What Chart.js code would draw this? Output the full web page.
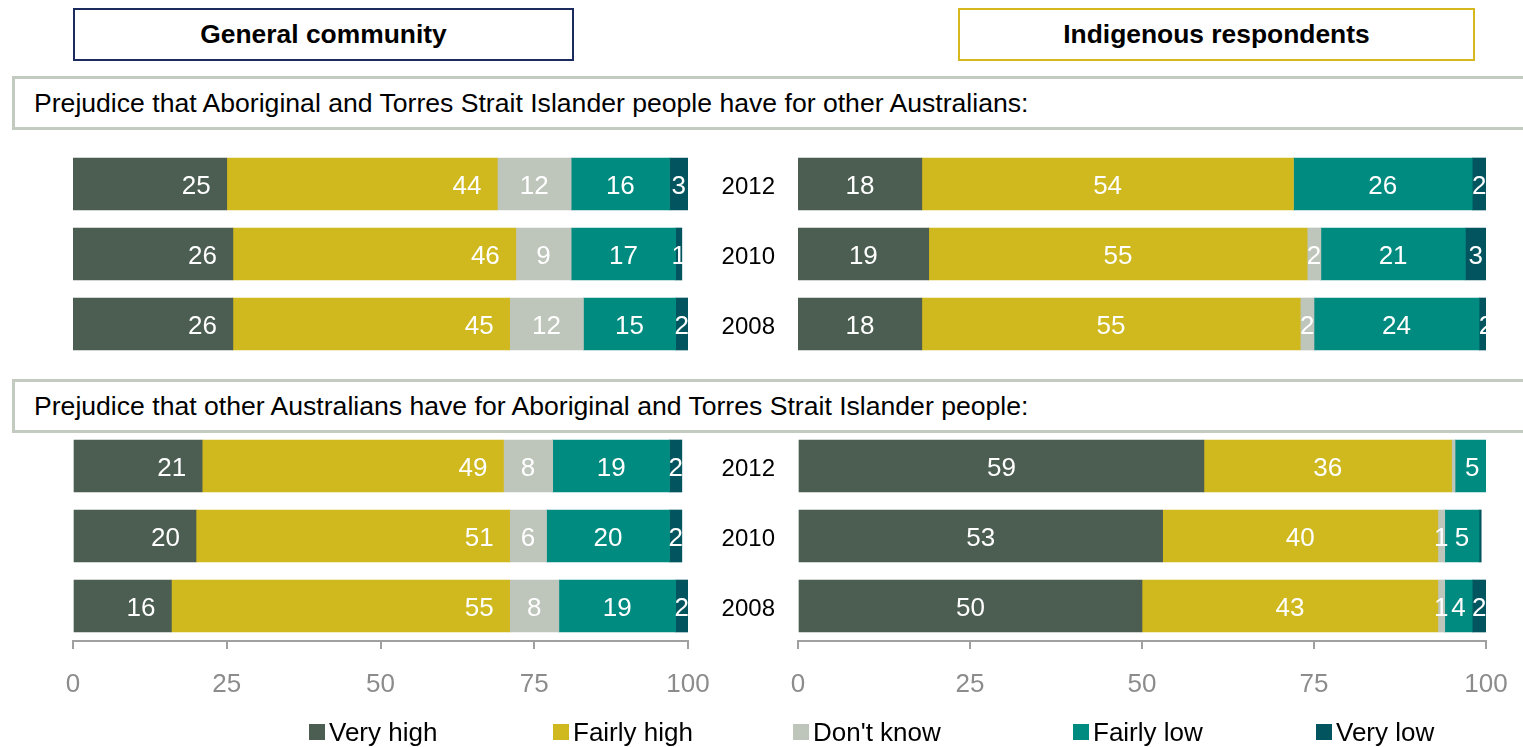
<!DOCTYPE html>
<html>
<head>
<meta charset="utf-8">
<script src="https://cdn.jsdelivr.net/npm/chart.js@4.4.1/dist/chart.umd.min.js"></script>
<style>
  html, body { margin: 0; padding: 0; background: #fff; }
  body { width: 1523px; height: 747px; position: relative; overflow: hidden;
         font-family: "Liberation Sans", Arial, sans-serif; color: #000; }
  .abs { position: absolute; }
  canvas.abs { display: block; }
  .header { box-sizing: border-box; height: 53px; display: flex; align-items: center;
            justify-content: center; font-weight: bold; font-size: 26.4px; }
  .section { box-sizing: border-box; left: 12px; width: 1540px; border: 3px solid #c3cbc0;
             display: flex; align-items: center; padding-left: 19px; font-size: 26.6px; }
  .legend-item { position: absolute; top: 717px; display: flex; align-items: center; font-size: 26px; line-height: 30px; }
  .legend-item span.sw { display: inline-block; width: 16px; height: 16px; margin-right: 4px; }
</style>
</head>
<body>
<div class="abs header" style="left:73px; top:8px; width:501px; border:2px solid #1c2b5e;">General community</div>
<div class="abs header" style="left:958px; top:8px; width:517px; border:2px solid #d4b81e;">Indigenous respondents</div>

<div class="abs section" style="top:76px; height:54px;">Prejudice that Aboriginal and Torres Strait Islander people have for other Australians:</div>
<div class="abs section" style="top:379px; height:54px;">Prejudice that other Australians have for Aboriginal and Torres Strait Islander people:</div>

<canvas id="tl" class="abs" width="615" height="210" style="left:73px; top:149px; width:615px; height:210px;"></canvas>
<canvas id="tr" class="abs" width="810" height="210" style="left:700px; top:149px; width:810px; height:210px;"></canvas>
<canvas id="bl" class="abs" width="675" height="290" style="left:43px; top:431px; width:675px; height:290px;"></canvas>
<canvas id="br" class="abs" width="810" height="290" style="left:700px; top:431px; width:810px; height:290px;"></canvas>

<div id="legend"></div>

<script>
// Survey years, top to bottom
const years = ['2012', '2010', '2008'];
// Response categories and their colours
const responses = ['Very high', 'Fairly high', "Don't know", 'Fairly low', 'Very low'];
const responseColors = ['#4b5e51', '#d0b91e', '#bec5bb', '#008b80', '#02555f'];
// Axis ticks
const xTicks = [0, 25, 50, 75, 100];

// Per year: Very high, Fairly high, Don't know, Fairly low, Very low (%)
const generalOnIndigenousPrejudice = [
  [25, 44, 12, 16, 3],
  [26, 46, 9, 17, 1],
  [26, 45, 12, 15, 2]
];
const indigenousOnIndigenousPrejudice = [
  [18, 54, 0, 26, 2],
  [19, 55, 2, 21, 3],
  [18, 55, 2, 24, 2]
];
const generalOnOthersPrejudice = [
  [21, 49, 8, 19, 2],
  [20, 51, 6, 20, 2],
  [16, 55, 8, 19, 2]
];
const indigenousOnOthersPrejudice = [
  [59, 36, 0.5, 5, 0.4],
  [53, 40, 1, 5, 0.3],
  [50, 43, 1, 4, 2]
];

const FONT = '"Liberation Sans", Arial, sans-serif';

// Writes the value inside each segment; some series are pinned to the segment end
const segmentLabels = {
  id: 'segmentLabels',
  afterDatasetsDraw(chart, args, opts) {
    const ctx = chart.ctx;
    ctx.save();
    ctx.font = '26px ' + FONT;
    ctx.fillStyle = '#ffffff';
    ctx.textBaseline = 'middle';
    chart.data.datasets.forEach((ds, di) => {
      const meta = chart.getDatasetMeta(di);
      meta.data.forEach((bar, i) => {
        const v = ds.data[i];
        if (v == null || v < 1) return;
        const txt = String(v);
        const left = Math.min(bar.x, bar.base), right = Math.max(bar.x, bar.base);
        if (opts.endAnchored && opts.endAnchored.includes(di)) {
          ctx.textAlign = 'right';
          ctx.fillText(txt, right - 16, bar.y + 3);
        } else {
          ctx.textAlign = 'center';
          ctx.fillText(txt, (left + right) / 2, bar.y + 3);
        }
      });
    });
    ctx.restore();
  }
};

function buildDatasets(rows) {
  return responses.map((name, k) => ({
    label: name,
    data: rows.map(r => r[k]),
    backgroundColor: responseColors[k],
    borderWidth: 0,
    barThickness: 52
  }));
}

// Fixed axis band sizes; label overhang is handled by layout padding instead
function fixSize(prop, size) {
  return s => {
    if (s.options.display) s[prop] = size;
    s.paddingTop = 0; s.paddingBottom = 0; s.paddingLeft = 0; s.paddingRight = 0;
  };
}

function makePanel(id, rows, cfg) {
  new Chart(document.getElementById(id), {
    type: 'bar',
    data: { labels: years, datasets: buildDatasets(rows) },
    plugins: [segmentLabels],
    options: {
      indexAxis: 'y',
      responsive: false,
      maintainAspectRatio: false,
      animation: false,
      events: [],
      devicePixelRatio: 1,
      layout: { padding: cfg.padding },
      plugins: {
        legend: { display: false },
        tooltip: { enabled: false },
        segmentLabels: { endAnchored: cfg.endAnchored || [] }
      },
      scales: {
        x: {
          type: 'linear',
          stacked: true,
          min: 0, max: 100,
          display: cfg.showX,
          afterBuildTicks: s => { s.ticks = xTicks.map(v => ({ value: v })); },
          afterFit: fixSize('height', 80),
          grid: { drawOnChartArea: false, drawTicks: true, tickLength: 8, color: '#a0a0a0', lineWidth: 2 },
          border: { display: true, color: '#a0a0a0', width: 2 },
          ticks: { color: '#8c8c8c', font: { family: FONT, size: 26 }, padding: 20, maxRotation: 0 }
        },
        y: {
          type: 'category',
          stacked: true,
          display: cfg.showY,
          afterFit: fixSize('width', 98),
          grid: { display: false },
          border: { display: false },
          ticks: { color: '#000', font: { family: FONT, size: 24 }, padding: 15, labelOffset: 3 }
        }
      }
    }
  });
}

makePanel('tl', generalOnIndigenousPrejudice, { showX: false, showY: false, padding: 0, endAnchored: [0, 1] });
makePanel('tr', indigenousOnIndigenousPrejudice, { showX: false, showY: true, padding: { left: 0, right: 24, top: 0, bottom: 0 } });
makePanel('bl', generalOnOthersPrejudice, { showX: true, showY: false, padding: { left: 30, right: 30, top: 0, bottom: 0 }, endAnchored: [0, 1] });
makePanel('br', indigenousOnOthersPrejudice, { showX: true, showY: true, padding: { left: 0, right: 24, top: 0, bottom: 0 } });

// Shared legend
const legendX = [309, 553, 793, 1073, 1316];
const legend = document.getElementById('legend');
responses.forEach((name, k) => {
  const item = document.createElement('div');
  item.className = 'legend-item';
  item.style.left = legendX[k] + 'px';
  const sw = document.createElement('span');
  sw.className = 'sw';
  sw.style.background = responseColors[k];
  item.appendChild(sw);
  item.appendChild(document.createTextNode(name));
  legend.appendChild(item);
});
</script>
</body>
</html>
